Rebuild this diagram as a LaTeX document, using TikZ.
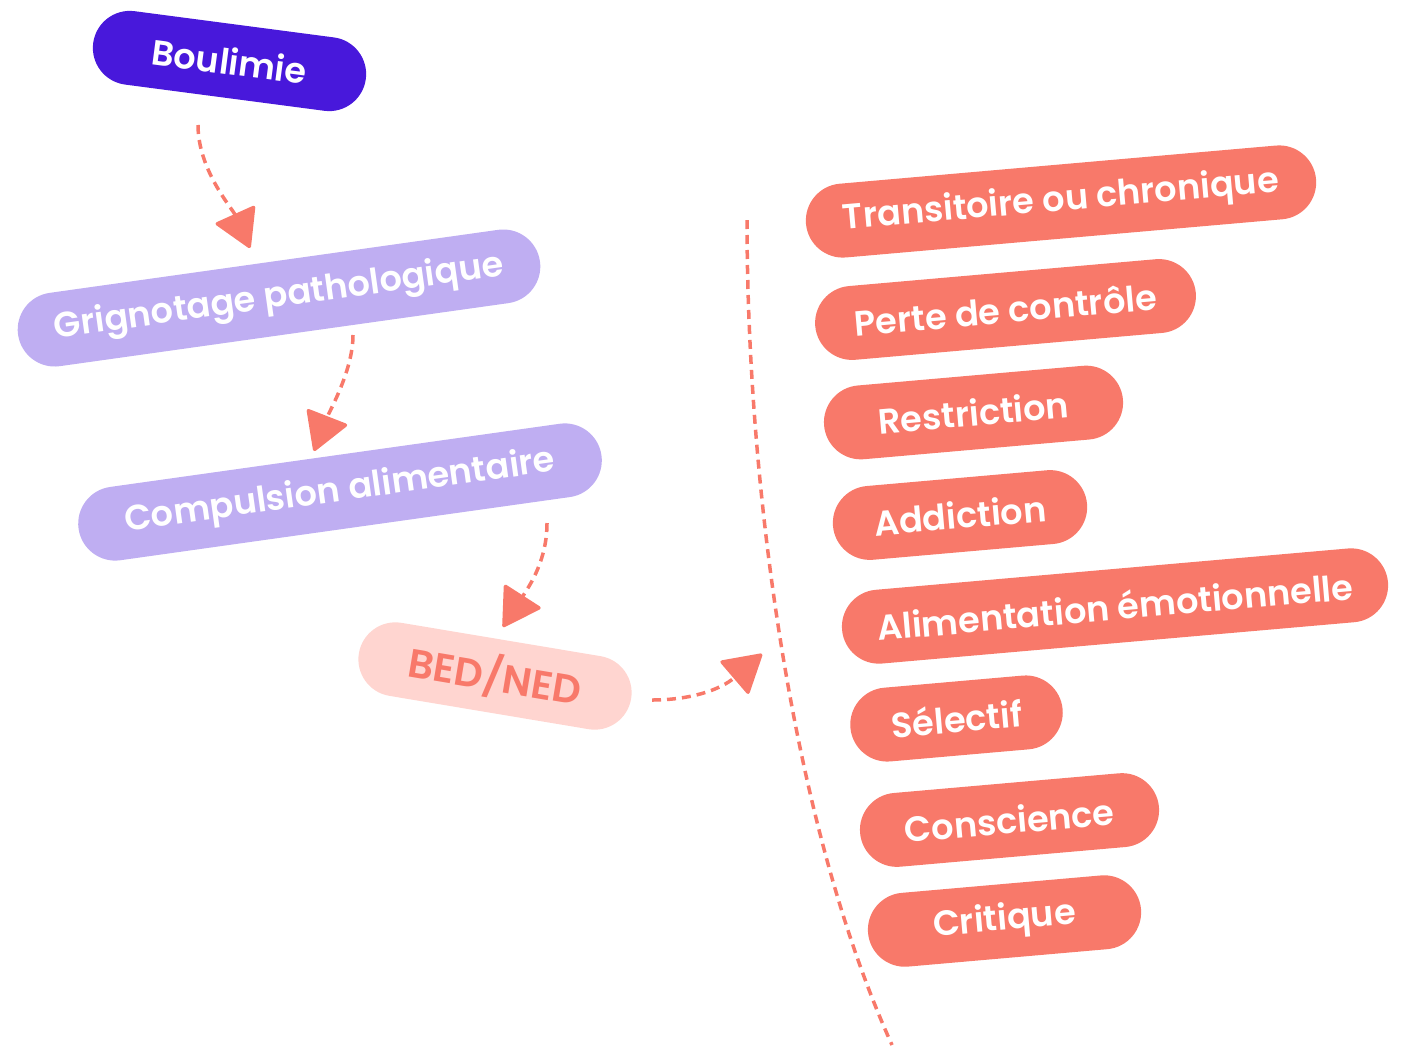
\documentclass[tikz,border=0pt]{standalone}
\usepackage{fontspec}
\setmainfont{Poppins}[UprightFont={* SemiBold}, BoldFont={* Bold}]
\usetikzlibrary{arrows.meta}

\definecolor{indigo}{RGB}{72,24,219}
\definecolor{lavande}{RGB}{191,174,242}
\definecolor{saumon}{RGB}{248,121,106}
\definecolor{rose}{RGB}{255,213,208}

\begin{document}
\begin{tikzpicture}[
	pill/.style={rectangle, rounded corners=0.37cm, minimum height=0.74cm, inner sep=0pt, text=white, font=\fontsize{10pt}{12pt}\selectfont},
	pointille/.style={saumon, line width=0.035cm, dash pattern=on 0.09cm off 0.06cm},
	fleche/.style={pointille, -{Triangle[length=0.39cm, width=0.45cm, round]}}
]
	\useasboundingbox (0, 0) rectangle (14.07, -10.51);

	% Левая колонка
	\node[pill, fill=indigo, minimum width=2.75cm, rotate=-7.5] (boul) at (2.295, -0.61) {Boulimie};
	\node[pill, fill=lavande, minimum width=5.27cm, rotate=8] (grig) at (2.79, -2.98) {Grignotage pathologique};
	\node[pill, fill=lavande, minimum width=5.28cm, rotate=8] (comp) at (3.40, -4.92) {Compulsion alimentaire};
	\node[pill, fill=rose, text=saumon, minimum width=2.76cm, rotate=-9.5, font=\fontsize{11.4pt}{13pt}\selectfont] (bed) at (4.95, -6.76) {BED/NED};

	% Правая колонка
	\node[pill, fill=saumon, minimum width=5.12cm, rotate=5] (trans) at (10.61, -2.015) {Transitoire ou chronique};
	\node[pill, fill=saumon, minimum width=3.82cm, rotate=5] (perte) at (10.055, -3.095) {Perte de contrôle};
	\node[pill, fill=saumon, minimum width=3.00cm, rotate=5] (restr) at (9.735, -4.125) {Restriction};
	\node[pill, fill=saumon, minimum width=2.55cm, rotate=5] (addic) at (9.60, -5.15) {Addiction};
	\node[pill, fill=saumon, minimum width=5.48cm, rotate=5] (alim) at (11.15, -6.06) {Alimentation émotionnelle};
	\node[pill, fill=saumon, minimum width=2.13cm, rotate=5] (selec) at (9.565, -7.185) {Sélectif};
	\node[pill, fill=saumon, minimum width=3.00cm, rotate=5] (consc) at (10.095, -8.20) {Conscience};
	\node[pill, fill=saumon, minimum width=2.74cm, rotate=5] (crit) at (10.045, -9.21) {Critique};

	% Концы стрелок
	\coordinate (a1) at (1.98, -1.25);
	\coordinate (b1) at (2.50, -2.48);
	\coordinate (a2) at (3.53, -3.35);
	\coordinate (b2) at (3.14, -4.51);
	\coordinate (a3) at (5.47, -5.23);
	\coordinate (b3) at (5.03, -6.27);
	\coordinate (a4) at (6.52, -7.00);
	\coordinate (b4) at (7.62, -6.54);

	\draw[fleche] (a1) .. controls (1.98, -1.70) and (2.32, -2.08) .. (b1); % Boulimie -> Grignotage
	\draw[fleche] (a2) .. controls (3.53, -3.70) and (3.30, -4.10) .. (b2); % Grignotage -> Compulsion
	\draw[fleche] (a3) .. controls (5.47, -5.60) and (5.30, -5.85) .. (b3); % Compulsion -> BED/NED
	\draw[fleche] (a4) .. controls (6.90, -7.00) and (7.20, -6.90) .. (b4); % BED/NED -> вправо

	% Пунктирная граница
	\coordinate (s1) at (7.47, -2.20);
	\coordinate (s2) at (8.92, -10.45);
	\draw[pointille] (s1) .. controls (7.47, -4.80) and (7.90, -8.20) .. (s2);
\end{tikzpicture}
\end{document}
